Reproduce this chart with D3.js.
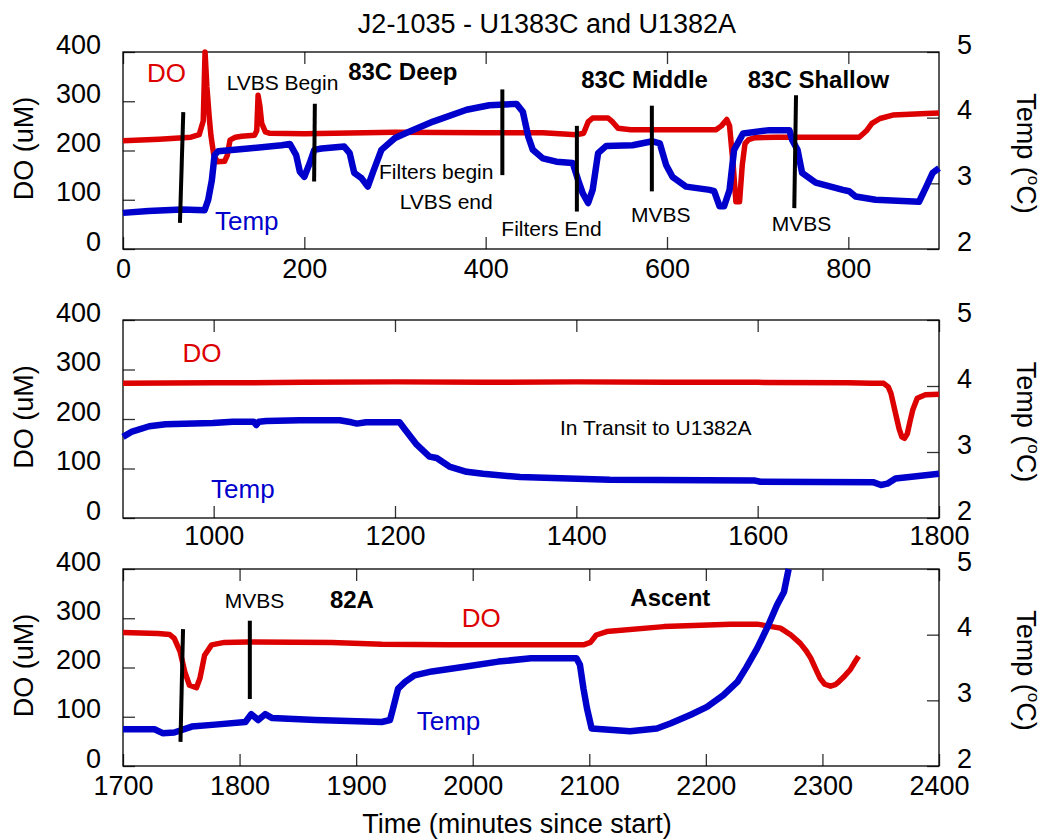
<!DOCTYPE html>
<html lang="en">
<head>
<meta charset="utf-8">
<title>J2-1035 DO and Temp</title>
<script src="https://cdn.jsdelivr.net/npm/d3@7"></script>
<style>
  body { margin: 0; background: #fff; }
  text { font-family: "Liberation Sans", Arial, sans-serif; }
</style>
</head>
<body>
<script>
// values
var title = 'J2-1035 - U1383C and U1382A';
var doTicks = [0, 100, 200, 300, 400];
var tempTicks = [2, 3, 4, 5];
var timeTicks1 = [0, 200, 400, 600, 800];
var timeTicks2 = [1000, 1200, 1400, 1600, 1800];
var timeTicks3 = [1700, 1800, 1900, 2000, 2100, 2200, 2300, 2400];

// [minutes, DO uM]
var do1 = [[0,220],[40,223],[75,227],[84,232],[88.5,260],[90.5,400],[92.5,330],[95,270],[97,230],[100,192],[104,177],
  [112,178],[115,190],[118,221],[124,227],[131,229],[145,231],[147.5,240],[149,312],[151,290],[153,255],[157,238],
  [162,235],[200,234],[300,237],[400,236],[463,236],[500,232],[508,235],[513,258],[518,266],[535,266],[540,258],
  [546,245],[560,242],[654,242],[660,250],[666,263],[669,250],[673,170],[676,96],[680,96],[683,170],[686,214],
  [690,222],[697,226],[720,227],[812,227],[820,240],[826,255],[835,265],[849,272],[886,275],[900,276]];
// [minutes, deg C]
var temp1 = [[0,2.55],[28,2.58],[65,2.60],[90,2.59],[94,2.75],[98,3.05],[101,3.43],[105,3.49],[138,3.53],[175,3.58],
  [184,3.60],[191,3.43],[195,3.18],[200,3.10],[206,3.31],[211,3.51],[219,3.53],[244,3.56],[250,3.46],[255,3.16],
  [263,3.08],[270,2.95],[276,3.18],[285,3.51],[300,3.69],[311,3.76],[342,3.94],[379,4.12],[404,4.19],[434,4.21],
  [441,4.09],[447,3.71],[452,3.51],[463,3.38],[478,3.33],[496,3.31],[502,3.05],[507,2.85],[513,2.70],[518,2.90],
  [524,3.46],[533,3.57],[562,3.58],[584,3.64],[592,3.61],[599,3.28],[606,3.10],[621,2.95],[647,2.90],[652,2.88],
  [658,2.65],[663,2.65],[669,2.90],[674,3.51],[684,3.76],[713,3.81],[735,3.81],[738,3.66],[744,3.51],[749,3.16],
  [764,3.01],[794,2.90],[801,2.88],[808,2.80],[830,2.75],[878,2.72],[886,2.95],[893,3.16],[900,3.23]];

var do2 = [[900,272],[1000,273],[1100,274],[1200,275],[1300,274],[1400,275],[1500,274],[1600,274],[1700,273],
  [1725,272],[1739,272],[1744,265],[1747,252],[1752,212],[1756,180],[1759,164],[1762,161],[1765,170],[1768,195],
  [1771,218],[1776,242],[1785,249],[1800,250]];
var temp2 = [[900,3.23],[910,3.31],[929,3.39],[947,3.42],[999,3.44],[1021,3.46],[1044,3.46],[1047,3.41],[1050,3.46],
  [1058,3.47],[1095,3.48],[1139,3.48],[1152,3.45],[1158,3.43],[1168,3.45],[1205,3.45],[1211,3.34],[1224,3.11],
  [1238,2.93],[1246,2.91],[1260,2.78],[1279,2.70],[1297,2.67],[1338,2.62],[1437,2.58],[1596,2.57],[1603,2.55],
  [1728,2.54],[1736,2.50],[1743,2.52],[1752,2.60],[1780,2.64],[1800,2.67]];

var do3 = [[1700,271],[1730,269],[1740,267],[1744,259],[1749,232],[1753,191],[1757,164],[1763,159],[1766,178],
  [1770,225],[1776,246],[1787,251],[1807,252],[1879,251],[1922,247],[1979,246],[2095,246],[2101,251],[2106,266],
  [2115,273],[2164,283],[2221,288],[2244,288],[2264,280],[2273,266],[2281,249],[2286,234],[2290,219],[2294,198],
  [2298,178],[2302,166],[2307,162],[2311,165],[2314,171],[2318,180],[2321,188],[2324,196],[2327,208],[2331,223]];
var temp3 = [[1700,2.56],[1727,2.56],[1734,2.50],[1744,2.51],[1759,2.60],[1779,2.63],[1805,2.67],[1810,2.79],
  [1816,2.70],[1822,2.79],[1828,2.73],[1865,2.70],[1922,2.67],[1929,2.70],[1931,2.83],[1936,3.18],[1942,3.28],
  [1950,3.38],[1965,3.44],[1993,3.51],[2022,3.59],[2050,3.64],[2089,3.64],[2092,3.54],[2095,3.18],[2098,2.88],
  [2102,2.57],[2135,2.53],[2158,2.57],[2170,2.65],[2187,2.78],[2201,2.90],[2215,3.08],[2227,3.28],[2235,3.51],
  [2244,3.79],[2253,4.12],[2261,4.45],[2267,4.65],[2271,5.0]];

// event bars: [time top, DO top, time bottom, DO bottom]
var marks1 = [[66.5,278,62.8,53],[211.6,295,210.8,137],[418.4,324,418.4,150],[500.6,250,500.6,76],
  [583.3,291,583.3,117],[742.3,312,740.4,83]];
var marks3 = [[1751.5,278,1749.3,49],[1808.8,295,1808.8,136]];

// notes: [text, time, DO-axis y, kind]
var notes1 = [['DO',26.4,339,'do'],['Temp',101.4,39,'temp'],['LVBS Begin',114.3,323,'small'],
  ['83C Deep',248.3,343,'bold'],['Filters begin',282.4,142,'small'],['LVBS end',305.2,82,'small'],
  ['Filters End',417.3,26,'small'],['MVBS',560.3,55,'small'],['83C Middle',505.4,326,'bold'],
  ['83C Shallow',689,326,'bold'],['MVBS',715.5,36,'small']];
var notes2 = [['DO',965.7,316,'do'],['Temp',997.1,40,'temp'],['In Transit to U1382A',1382,168,'small']];
var notes3 = [['MVBS',1787.3,320,'small'],['82A',1877.5,320,'bold'],['DO',1990.6,282,'do'],
  ['Temp',1952,73,'temp'],['Ascent',2135.2,325,'bold']];

var red = '#dc0000', blue = '#0000cc';
var noteStyle = {
  do: { fill: red, size: 26, weight: 'normal' },
  temp: { fill: blue, size: 26, weight: 'normal' },
  bold: { fill: '#000', size: 24, weight: 'bold' },
  small: { fill: '#000', size: 21, weight: 'normal' }
};

var width = 1044, height = 840;
var left = 123, right = 939, tickLen = 12, fs = 27;

var svg = d3.select('body').append('svg')
  .attr('width', width).attr('height', height);

svg.append('text')
  .attr('x', 547).attr('y', 33)
  .attr('text-anchor', 'middle')
  .style('font-size', fs + 'px')
  .text(title);

var panels = [
  { top: 52, bottom: 249, pad: 10, domain: [0, 900], ticks: timeTicks1, doData: do1, tempData: temp1, marks: marks1, notes: notes1 },
  { top: 320, bottom: 518, pad: 8, domain: [900, 1800], ticks: timeTicks2, doData: do2, tempData: temp2, marks: [], notes: notes2 },
  { top: 569, bottom: 766, pad: 10, domain: [1700, 2400], ticks: timeTicks3, doData: do3, tempData: temp3, marks: marks3, notes: notes3 }
];

panels.forEach(function (p) {
  var x = d3.scaleLinear().domain(p.domain).range([left, right]);
  var yDo = d3.scaleLinear().domain([0, 400]).range([p.bottom, p.top]);
  var yT = d3.scaleLinear().domain([2, 5]).range([p.bottom, p.top]);
  var g = svg.append('g');

  // axes with inward ticks
  var bottomAx = g.append('g').attr('transform', 'translate(0,' + p.bottom + ')')
    .call(d3.axisBottom(x).tickValues(p.ticks).tickSize(-tickLen).tickSizeOuter(0).tickPadding(p.pad).tickFormat(d3.format('d')));
  var topAx = g.append('g').attr('transform', 'translate(0,' + p.top + ')')
    .call(d3.axisTop(x).tickValues(p.ticks).tickSize(-tickLen).tickSizeOuter(0).tickFormat(''));
  var leftAx = g.append('g').attr('transform', 'translate(' + left + ',0)')
    .call(d3.axisLeft(yDo).tickValues(doTicks).tickSize(-tickLen).tickSizeOuter(0).tickPadding(22));
  var rightAx = g.append('g').attr('transform', 'translate(' + right + ',0)')
    .call(d3.axisRight(yT).tickValues(tempTicks).tickSize(-tickLen).tickSizeOuter(0).tickPadding(18).tickFormat(d3.format('d')));

  [bottomAx, topAx, leftAx, rightAx].forEach(function (ax) {
    ax.select('.domain').remove();
    ax.selectAll('line').attr('stroke', '#333').attr('stroke-width', 1.3);
    ax.selectAll('text').style('font-size', fs + 'px').attr('fill', '#000')
      .style('font-family', '"Liberation Sans", Arial, sans-serif');
  });
  leftAx.selectAll('text').attr('dy', '0.04em');
  rightAx.selectAll('text').attr('dy', '0.04em');

  g.append('rect')
    .attr('x', left).attr('y', p.top)
    .attr('width', right - left).attr('height', p.bottom - p.top)
    .attr('fill', 'none').attr('stroke', '#000').attr('stroke-width', 1.3);

  // series
  g.append('path').datum(p.doData)
    .attr('d', d3.line().x(function (d) { return x(d[0]); }).y(function (d) { return yDo(d[1]); }))
    .attr('fill', 'none').attr('stroke', red).attr('stroke-width', 5.5)
    .attr('stroke-linejoin', 'round');
  g.append('path').datum(p.tempData)
    .attr('d', d3.line().x(function (d) { return x(d[0]); }).y(function (d) { return yT(d[1]); }))
    .attr('fill', 'none').attr('stroke', blue).attr('stroke-width', 6.5)
    .attr('stroke-linejoin', 'round');

  // event bars
  g.selectAll('line.mark').data(p.marks).enter().append('line')
    .attr('class', 'mark')
    .attr('x1', function (d) { return x(d[0]); })
    .attr('y1', function (d) { return yDo(d[1]); })
    .attr('x2', function (d) { return x(d[2]); })
    .attr('y2', function (d) { return yDo(d[3]); })
    .attr('stroke', '#000').attr('stroke-width', 4);

  // notes
  g.selectAll('text.note').data(p.notes).enter().append('text')
    .attr('class', 'note')
    .attr('x', function (d) { return x(d[1]); })
    .attr('y', function (d) { return yDo(d[2]); })
    .attr('fill', function (d) { return noteStyle[d[3]].fill; })
    .style('font-size', function (d) { return noteStyle[d[3]].size + 'px'; })
    .style('font-weight', function (d) { return noteStyle[d[3]].weight; })
    .text(function (d) { return d[0]; });

  // axis titles
  var mid = (p.top + p.bottom) / 2;
  svg.append('text')
    .attr('transform', 'translate(33,' + (mid - 2) + ') rotate(-90)')
    .attr('text-anchor', 'middle')
    .style('font-size', fs + 'px')
    .text('DO (uM)');
  var tl = svg.append('text')
    .attr('transform', 'translate(1017,' + (mid + 3) + ') rotate(90)')
    .attr('text-anchor', 'middle')
    .style('font-size', fs + 'px');
  tl.append('tspan').text('Temp (');
  tl.append('tspan').attr('dy', -11).style('font-size', '17px').text('o');
  tl.append('tspan').attr('dy', 11).text('C)');
});

svg.append('text')
  .attr('x', 517).attr('y', 833)
  .attr('text-anchor', 'middle')
  .style('font-size', fs + 'px')
  .text('Time (minutes since start)');
</script>
</body>
</html>
